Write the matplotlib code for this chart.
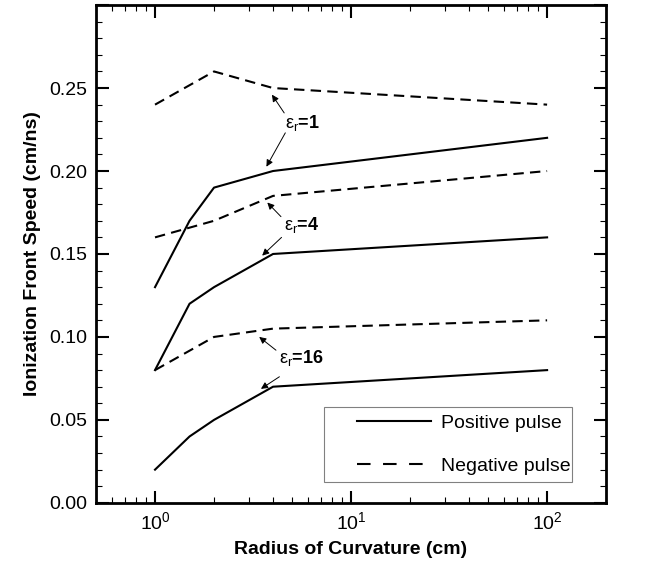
import numpy as np
import matplotlib
matplotlib.use("Agg")
import matplotlib.pyplot as plt
from matplotlib.lines import Line2D
from matplotlib.patches import Rectangle
from matplotlib.ticker import LogLocator, MultipleLocator, FuncFormatter, NullFormatter

plt.rcParams["font.family"] = ["Liberation Sans", "DejaVu Sans"]
plt.rcParams["mathtext.fontset"] = "custom"
plt.rcParams["mathtext.rm"] = "Liberation Sans"
plt.rcParams["mathtext.it"] = "Liberation Sans"

# radius of curvature (cm)
radius_pos = [1, 1.5, 2, 4, 100]
radius_neg = [1, 2, 4, 100]

# ionization front speed (cm/ns)
pos_er1 = [0.13, 0.17, 0.19, 0.20, 0.22]
pos_er4 = [0.08, 0.12, 0.13, 0.15, 0.16]
pos_er16 = [0.02, 0.04, 0.05, 0.07, 0.08]
neg_er1 = [0.24, 0.26, 0.25, 0.24]
neg_er4 = [0.16, 0.17, 0.185, 0.20]
neg_er16 = [0.08, 0.10, 0.105, 0.11]

labels = ["1", "4", "16"]
legend_labels = ["Positive pulse", "Negative pulse"]

fig = plt.figure(figsize=(6.69, 5.65), dpi=100)
ax = fig.add_axes([0.1435, 0.11, 0.7625, 0.881])

dash = (0, (5, 3))
lw = 1.5
for ys in (pos_er1, pos_er4, pos_er16):
    ax.plot(radius_pos, ys, color="black", lw=lw)
for ys in (neg_er1, neg_er4, neg_er16):
    ax.plot(radius_neg, ys, color="black", lw=lw, linestyle=dash)

# annotations: text pos, two arrow tails, two arrow heads
annot = [
    ((4.6, 0.229), (4.56, 0.235), (3.95, 0.246), (4.62, 0.223), (3.70, 0.2026)),
    ((4.57, 0.1675), (4.39, 0.1725), (3.74, 0.181), (4.42, 0.160), (3.52, 0.149)),
    ((4.30, 0.0873), (4.14, 0.092), (3.40, 0.100), (4.31, 0.076), (3.47, 0.0687)),
]
for lab, (tpos, t1, h1, t2, h2) in zip(labels, annot):
    ax.text(tpos[0], tpos[1], r"$\varepsilon_{\mathrm{r}}$" + "=" + lab,
            fontsize=13, fontweight="bold", ha="left", va="center")
    for t, h in ((t1, h1), (t2, h2)):
        ax.annotate("", xy=h, xytext=t,
                    arrowprops=dict(arrowstyle="-|>", color="black", lw=0.7,
                                    mutation_scale=10, shrinkA=0, shrinkB=0))

ax.set_xscale("log")
ax.set_xlim(0.5, 200)
ax.set_ylim(0, 0.30)
ax.yaxis.set_major_locator(MultipleLocator(0.05))
ax.yaxis.set_minor_locator(MultipleLocator(0.01))
ax.yaxis.set_major_formatter(FuncFormatter(lambda v, p: "" if v > 0.27 else f"{v:.2f}"))
ax.xaxis.set_major_locator(LogLocator(base=10))
ax.xaxis.set_minor_locator(LogLocator(base=10, subs=np.arange(2, 10)))
ax.xaxis.set_minor_formatter(NullFormatter())

ax.tick_params(which="both", direction="in", top=True, right=True, labelsize=14)
ax.tick_params(which="major", length=9, width=1.5, pad=6)
ax.tick_params(which="minor", length=4, width=0.8)
for s in ax.spines.values():
    s.set_linewidth(2)

ax.set_xlabel("Radius of Curvature (cm)", fontsize=14, fontweight="bold", labelpad=6)
ax.set_ylabel("Ionization Front Speed (cm/ns)", fontsize=14, fontweight="bold", labelpad=6)

# legend box drawn by hand to match the original framing
ax.add_patch(Rectangle((0.447, 0.042), 0.486, 0.151, transform=ax.transAxes,
                       facecolor="white", edgecolor="gray", lw=0.8, zorder=4))
handles = [Line2D([], [], color="black", lw=lw),
           Line2D([], [], color="black", lw=lw, linestyle=(0, (6.5, 6)))]
leg = ax.legend(handles, legend_labels, loc="center left",
                bbox_to_anchor=(0.512, 0.1175), borderaxespad=0, borderpad=0,
                frameon=False, fontsize=14, handlelength=3.8,
                labelspacing=1.3, handletextpad=0.5)
leg.set_zorder(5)

fig.savefig("out.png", dpi=100)
